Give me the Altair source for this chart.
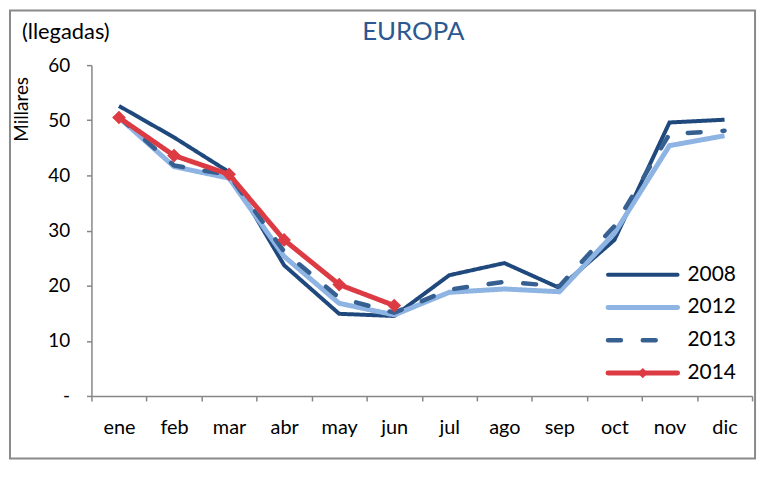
import altair as alt
import pandas as pd

months = ["ene", "feb", "mar", "abr", "may", "jun", "jul", "ago", "sep", "oct", "nov", "dic"]
series_names = ["2008", "2012", "2013", "2014"]
v2008 = [52.6, 46.9, 40.6, 23.7, 14.9, 14.5, 21.9, 24.1, 19.6, 28.3, 49.6, 50.1]
v2012 = [50.5, 41.6, 39.5, 25.3, 16.8, 14.7, 18.8, 19.4, 18.9, 29.5, 45.4, 47.2]
v2013 = [50.6, 41.8, 40.1, 26.2, 17.8, 15.1, 19.3, 20.7, 19.9, 30.8, 47.5, 48.1]
v2014 = [50.5, 43.6, 40.2, 28.3, 20.2, 16.4]
y_ticks = [0, 10, 20, 30, 40, 50, 60]

colors = ["#1F497D", "#8DB4E2", "#376092", "#DC3B44"]
widths = [4, 5, 4.5, 5]
dashes = [[1, 0], [1, 0], [13, 22], [1, 0]]

rows = []
for name, vals in zip(series_names, [v2008, v2012, v2013, v2014]):
    for m, v in zip(months, vals):
        rows.append({"mes": m, "serie": name, "valor": v})
df = pd.DataFrame(rows)

FONT = "Lato"
W, H = 665, 333

x_enc = alt.X("mes:N", sort=months,
              scale=alt.Scale(domain=months, paddingInner=0, paddingOuter=0),
              axis=alt.Axis(title=None, tickBand="extent", labelAngle=0,
                            labelFont=FONT, labelFontSize=20, labelColor="#000",
                            labelPadding=17, tickSize=5, tickColor="#868686",
                            domainColor="#868686", domainWidth=1.5, tickWidth=1.5,
                            grid=False))
y_enc = alt.Y("valor:Q",
              scale=alt.Scale(domain=[0, 60], nice=False),
              axis=alt.Axis(values=y_ticks, title="Millares",
                            labelExpr="datum.value == 0 ? '-' : datum.label",
                            labelFont=FONT, labelFontSize=19, labelColor="#000",
                            labelPadding=17, tickSize=5, tickColor="#868686",
                            domainColor="#868686", domainWidth=1.5, tickWidth=1.5,
                            grid=False, titleFont=FONT, titleFontSize=19,
                            titleFontWeight="normal", titleColor="#000",
                            titleAngle=270, titleX=-70, titleY=44,
                            titleAlign="center", titleBaseline="middle"))

base = alt.Chart(df)
layers = []
for name, c, w, d in zip(series_names, colors, widths, dashes):
    layers.append(
        base.transform_filter(alt.datum.serie == name)
        .mark_line(color=c, strokeWidth=w, strokeDash=d,
                   strokeCap="round" if name == "2013" else "butt",
                   strokeJoin="miter")
        .encode(x=x_enc, y=y_enc)
    )
layers.append(
    base.transform_filter(alt.datum.serie == "2014")
    .mark_point(shape="diamond", filled=True, size=190, color=colors[3], opacity=1)
    .encode(x=x_enc, y=y_enc)
)

one = pd.DataFrame({"a": [0]})
# frame
frame = alt.Chart(one).mark_rect(fill=None, stroke="#8A8A8A", strokeWidth=2).encode(
    x=alt.value(-82), x2=alt.value(668), y=alt.value(-55), y2=alt.value(396))

title = alt.Chart(one).mark_text(text="EUROPA", font=FONT, fontSize=26,
                                 color="#2B5891", align="center", baseline="middle").encode(
    x=alt.value(324), y=alt.value(-33))
unit = alt.Chart(one).mark_text(text="(llegadas)", font=FONT, fontSize=22,
                                color="#000", align="left", baseline="middle").encode(
    x=alt.value(-70), y=alt.value(-33))

# legend
leg_x1, leg_x2, leg_tx = 520, 590, 600
leg_y0, leg_dy = 211, 33
legend_layers = []
for i, (name, c, w, d) in enumerate(zip(series_names, colors, widths, dashes)):
    yy = leg_y0 + i * leg_dy
    legend_layers.append(
        alt.Chart(one).mark_rule(color=c, strokeWidth=w, strokeDash=d, strokeCap="round")
        .encode(x=alt.value(leg_x1), x2=alt.value(leg_x2), y=alt.value(yy))
    )
    if name == "2014":
        legend_layers.append(
            alt.Chart(one).mark_point(shape="diamond", filled=True, size=110,
                                      color=c, opacity=1)
            .encode(x=alt.value((leg_x1 + leg_x2) / 2), y=alt.value(yy))
        )
    legend_layers.append(
        alt.Chart(one).mark_text(text=name, font=FONT, fontSize=21, color="#000",
                                 align="left", baseline="middle")
        .encode(x=alt.value(leg_tx), y=alt.value(yy))
    )

chart = alt.layer(frame, *layers, title, unit, *legend_layers).properties(
    width=W, height=H,
    autosize=alt.AutoSizeParams(type="none"),
    padding={"left": 84, "top": 56, "right": 10, "bottom": 70},
    background="white",
).configure_view(stroke=None)

chart.save("out.html", embed_options={"renderer": "svg", "actions": False})
